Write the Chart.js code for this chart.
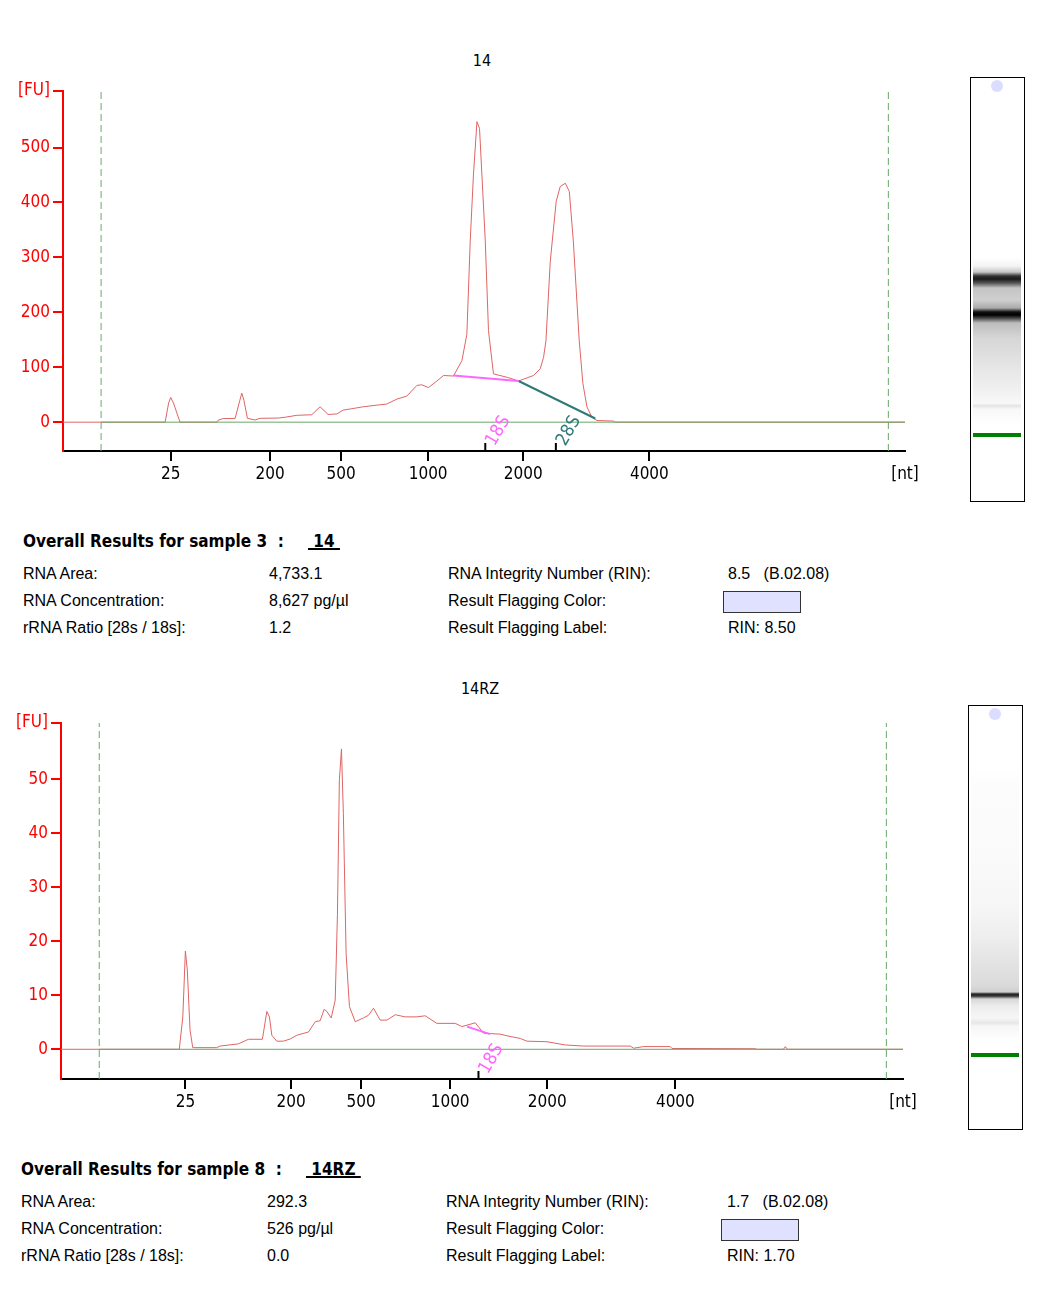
<!DOCTYPE html>
<html>
<head>
<meta charset="utf-8">
<script src="https://cdn.jsdelivr.net/npm/chart.js@4.4.0/dist/chart.umd.min.js"></script>
<style>
  body { margin: 0; background: #fff; width: 1056px; height: 1305px; position: relative; overflow: hidden;
         font-family: "Liberation Sans", Arial, sans-serif; color: #000; }
  .abs { position: absolute; white-space: nowrap; }
  .title { font-family: "DejaVu Sans Condensed", "DejaVu Sans", sans-serif; font-size: 16px; line-height: 20px; }
  .head { font-family: "DejaVu Sans Condensed", "DejaVu Sans", sans-serif; font-weight: bold; font-size: 17px; line-height: 20px; }
  .head u { text-decoration-thickness: 2px; }
  .row { font-size: 16px; line-height: 18px; }
  .flag { position: absolute; width: 76px; height: 20px; background: #e0e0ff; border: 1px solid #333; }
  .gel { position: absolute; width: 53px; height: 423px; border: 1px solid #000; background: #fff; }
  .lane { position: absolute; left: 2px; width: 48px; top: 0; height: 423px; }
  .dot { position: absolute; width: 12px; height: 12px; border-radius: 6px; background: #dcdcff; }
  .ladder { position: absolute; left: 2px; width: 48px; height: 4px; background: #008000; }
</style>
</head>
<body>

<!-- sample 3 : 14 -->
<div class="abs title" style="left:462px; top:51px; width:40px; text-align:center;">14</div>
<canvas id="chart14" class="abs" style="left:0; top:40px;" width="940" height="470"></canvas>

<div class="gel" style="left:970px; top:77px;">
  <div class="lane" style="background: linear-gradient(to bottom,
      #fff 0px, #fff 180px, #f4f4f4 188px, #c8c8c8 194px, #333 198px, #1a1a1a 201px, #555 205px, #c4c4c4 210px,
      #cfcfcf 222px, #aaa 230px, #111 234px, #000 237px, #444 240px, #bdbdbd 245px, #d6d6d6 260px,
      #e6e6e6 290px, #f2f2f2 315px, #f8f8f8 325px, #e4e4e4 328px, #f8f8f8 331px, #fff 345px, #fff 423px);"></div>
  <div class="dot" style="left:20px; top:2px;"></div>
  <div class="ladder" style="top:355px;"></div>
</div>

<div class="abs head" style="left:23px; top:531px;">Overall Results for sample 3&nbsp; :</div>
<div class="abs head" style="left:308px; top:531px;"><u>&nbsp;14&nbsp;</u></div>

<div class="abs row" style="left:23px; top:565px;">RNA Area:</div>
<div class="abs row" style="left:269px; top:565px;">4,733.1</div>
<div class="abs row" style="left:448px; top:565px;">RNA Integrity Number (RIN):</div>
<div class="abs row" style="left:728px; top:565px;">8.5&nbsp;&nbsp;&nbsp;(B.02.08)</div>

<div class="abs row" style="left:23px; top:592px;">RNA Concentration:</div>
<div class="abs row" style="left:269px; top:592px;">8,627 pg/µl</div>
<div class="abs row" style="left:448px; top:592px;">Result Flagging Color:</div>
<div class="flag" style="left:723px; top:591px;"></div>

<div class="abs row" style="left:23px; top:619px;">rRNA Ratio [28s / 18s]:</div>
<div class="abs row" style="left:269px; top:619px;">1.2</div>
<div class="abs row" style="left:448px; top:619px;">Result Flagging Label:</div>
<div class="abs row" style="left:728px; top:619px;">RIN: 8.50</div>

<!-- sample 8 : 14RZ -->
<div class="abs title" style="left:440px; top:679px; width:80px; text-align:center;">14RZ</div>
<canvas id="chart14RZ" class="abs" style="left:0; top:680px;" width="940" height="460"></canvas>

<div class="gel" style="left:968px; top:705px;">
  <div class="lane" style="background: linear-gradient(to bottom,
      #fff 0px, #fff 60px, #fcfcfc 80px, #fafafa 150px, #f6f6f6 200px, #eeeeee 230px, #e2e2e2 260px,
      #dadada 280px, #cfcfcf 286px, #222 288px, #333 290px, #d8d8d8 293px, #ececec 300px, #f6f6f6 312px,
      #e6e6e6 317px, #f6f6f6 320px, #fff 335px, #fff 423px);"></div>
  <div class="dot" style="left:20px; top:2px;"></div>
  <div class="ladder" style="top:347px;"></div>
</div>

<div class="abs head" style="left:21px; top:1159px;">Overall Results for sample 8&nbsp; :</div>
<div class="abs head" style="left:306px; top:1159px;"><u>&nbsp;14RZ&nbsp;</u></div>

<div class="abs row" style="left:21px; top:1193px;">RNA Area:</div>
<div class="abs row" style="left:267px; top:1193px;">292.3</div>
<div class="abs row" style="left:446px; top:1193px;">RNA Integrity Number (RIN):</div>
<div class="abs row" style="left:727px; top:1193px;">1.7&nbsp;&nbsp;&nbsp;(B.02.08)</div>

<div class="abs row" style="left:21px; top:1220px;">RNA Concentration:</div>
<div class="abs row" style="left:267px; top:1220px;">526 pg/µl</div>
<div class="abs row" style="left:446px; top:1220px;">Result Flagging Color:</div>
<div class="flag" style="left:721px; top:1219px;"></div>

<div class="abs row" style="left:21px; top:1247px;">rRNA Ratio [28s / 18s]:</div>
<div class="abs row" style="left:267px; top:1247px;">0.0</div>
<div class="abs row" style="left:446px; top:1247px;">Result Flagging Label:</div>
<div class="abs row" style="left:727px; top:1247px;">RIN: 1.70</div>

<script>
'use strict';

// size ladder labels (nt) shared by both runs
let sizeLabels = ['25', '200', '500', '1000', '2000', '4000'];

// ---- sample 3 (14) ----
// migration time [s] of each ladder size
let ladderTimes14 = [25.73, 31.94, 36.38, 41.81, 47.75, 55.63];
let fuTicks14 = [0, 100, 200, 300, 400, 500];

let time14 = [19.0, 25.38, 25.6, 25.73, 25.9, 26.31, 28.61, 28.69, 29.0, 29.75, 30.05, 30.17, 30.3,
  30.52, 31.0, 31.31, 32.44, 32.88, 33.61, 34.54, 35.06, 35.56, 36.11, 36.5, 36.94, 37.75, 38.61,
  39.23, 39.86, 40.48, 41.11, 41.42, 41.83, 42.36, 42.77, 43.39, 43.92, 44.23, 44.44, 44.64,
  44.86, 45.02, 45.17, 45.38, 45.58, 45.89, 46.83, 47.46, 48.39, 48.81, 49.02, 49.17, 49.44,
  49.81, 50.06, 50.38, 50.63, 50.88, 51.25, 51.48, 51.73, 52.04, 52.36, 53.39, 53.5, 71.6];
let fu14 = [0, 0, 35, 45, 35, 0, 0, 3.5, 6.5, 6.8, 40, 53, 40,
  7, 4, 7, 7.5, 9, 12.5, 13.5, 28, 14, 15, 22, 24, 28, 31,
  33, 42, 47.5, 67, 68, 63, 75, 85, 84, 112, 160, 330, 450,
  547, 535, 450, 330, 167, 88, 81, 75, 85, 97, 118, 148, 293,
  402, 429, 435, 420, 330, 148, 70, 28, 9, 3, 2, 0, 0];

// 18S / 28S baselines
let peak18sTime14 = [43.39, 47.46];
let peak18sFu14 = [85, 75];
let peak28sTime14 = [47.46, 52.25];
let peak28sFu14 = [75, 6.7];

// ---- sample 8 (14RZ) ----
let ladderTimes14RZ = [26.77, 33.38, 37.75, 43.31, 49.38, 57.38];
let fuTicks14RZ = [0, 10, 20, 30, 40, 50];

let time14RZ = [19.0, 26.39, 26.61, 26.77, 26.89, 27.06, 27.23, 28.73, 28.94, 30.08, 30.71,
  31.58, 31.86, 32.02, 32.17, 32.48, 32.89, 33.31, 33.73, 34.46, 34.88, 35.19, 35.44, 35.61,
  35.88, 36.13, 36.27, 36.39, 36.52, 36.64, 36.81, 37.02, 37.38, 37.89, 38.21, 38.52, 38.94,
  39.36, 39.88, 40.5, 41.23, 41.75, 42.48, 43.63, 44.04, 44.88, 45.39, 46.44, 46.86, 47.69,
  48.11, 49.36, 50.5, 51.64, 54.56, 54.77, 55.39, 57.06, 57.17, 62.38, 62.5, 64.13, 64.25,
  64.38, 71.6];
let fu14RZ = [0, 0, 6, 18.2, 14.7, 3.6, 0.3, 0.3, 0.6, 1.0, 1.85,
  1.85, 7.0, 6, 2.6, 1.5, 1.5, 1.9, 2.6, 3.2, 5.1, 5.3, 7.4, 7,
  5.8, 9.1, 25, 49.8, 55.6, 43.6, 17.7, 7.9, 5.1, 5.8, 6.3, 7.6, 5.4,
  5.4, 6.4, 6, 6, 6.2, 4.8, 4.8, 4.2, 4.9, 3.0, 2.8, 2.5, 2.0,
  1.5, 1.4, 0.8, 0.6, 0.6, 0.2, 0.5, 0.5, 0.15, 0.1, 0, 0, 0.5,
  0, 0];

let peak18sTime14RZ = [44.36, 45.81];
let peak18sFu14RZ = [4.2, 2.8];

// helpers
function toPoints(xs, ys) {
  let pts = [];
  for (let i = 0; i < xs.length; i++) {
    pts.push({ x: xs[i], y: ys[i] });
  }
  return pts;
}

let tickFont = { family: '"DejaVu Sans Condensed", "DejaVu Sans", sans-serif', size: 17 };

// draws the short 18S / 28S ticks and their slanted names on the time axis
let fragmentMarks = {
  id: 'fragmentMarks',
  afterDatasetsDraw(chart, args, opts) {
    let ctx = chart.ctx;
    let xScale = chart.scales.x;
    let bottom = chart.chartArea.bottom;
    ctx.save();
    for (let m of opts.marks) {
      let px = xScale.getPixelForValue(m.time);
      ctx.strokeStyle = '#000';
      ctx.lineWidth = 2;
      ctx.beginPath();
      ctx.moveTo(px, bottom - 8);
      ctx.lineTo(px, bottom);
      ctx.stroke();

      ctx.save();
      ctx.translate(px + 13, bottom - 20);
      ctx.rotate(-Math.PI / 3);
      ctx.fillStyle = m.color;
      ctx.font = '18px "DejaVu Sans Condensed", "DejaVu Sans", sans-serif';
      ctx.textAlign = 'center';
      ctx.textBaseline = 'middle';
      ctx.fillText(m.name, 0, 0);
      ctx.restore();
    }
    ctx.restore();
  }
};

function drawRun(canvasId, run) {
  let ctx = document.getElementById(canvasId).getContext('2d');

  let datasets = [
    { // baseline between the lower and upper markers
      data: toPoints([run.dashTimes[0], run.xMax], [0, 0]),
      borderColor: '#6aa86a', borderWidth: 1
    }
  ];
  for (let p of run.peaks) {
    datasets.push({ data: toPoints(p.times, p.fu), borderColor: p.color, borderWidth: 2 });
  }
  datasets.push({ data: toPoints(run.times, run.fu), borderColor: '#e06464', borderWidth: 1 });
  for (let t of run.dashTimes) {
    datasets.push({
      data: toPoints([t, t], [run.yMin, run.yMax]),
      borderColor: '#6aa86a', borderWidth: 1, borderDash: [7, 4]
    });
  }

  new Chart(ctx, {
    type: 'line',
    data: { datasets: datasets },
    plugins: [fragmentMarks],
    options: {
      responsive: false,
      animation: false,
      events: [],
      layout: { padding: { left: 0, right: run.padRight, top: run.padTop, bottom: 0 } },
      elements: { point: { radius: 0 }, line: { tension: 0 } },
      plugins: {
        legend: { display: false },
        tooltip: { enabled: false },
        fragmentMarks: { marks: run.marks }
      },
      scales: {
        x: {
          type: 'linear',
          min: run.xMin,
          max: run.xMax,
          afterBuildTicks: (scale) => {
            scale.ticks = run.ladderTimes.concat([run.xMax]).map(v => ({ value: v }));
          },
          afterFit: (scale) => { scale.height = run.xAxisHeight; },
          border: { color: '#000', width: 2 },
          grid: {
            drawOnChartArea: false,
            tickLength: 10,
            lineWidth: 2,
            color: (c) => (c.index >= run.ladderTimes.length ? 'rgba(0,0,0,0)' : '#000')
          },
          ticks: {
            autoSkip: false,
            maxRotation: 0,
            padding: 3,
            color: '#000',
            font: tickFont,
            callback: (v, i) => (i < sizeLabels.length ? sizeLabels[i] : '[nt]')
          }
        },
        y: {
          min: run.yMin,
          max: run.yMax,
          afterBuildTicks: (scale) => {
            scale.ticks = run.fuTicks.concat([run.yMax]).map(v => ({ value: v }));
          },
          afterFit: (scale) => { scale.width = run.yAxisWidth; },
          border: { color: '#ff0000', width: 2 },
          grid: { drawOnChartArea: false, tickLength: 10, lineWidth: 2, color: '#ff0000' },
          ticks: {
            padding: 3,
            color: '#ff0000',
            font: tickFont,
            callback: (v, i) => (i < run.fuTicks.length ? String(v) : '[FU]')
          }
        }
      }
    }
  });
}

drawRun('chart14', {
  times: time14, fu: fu14,
  ladderTimes: ladderTimes14, fuTicks: fuTicks14,
  xMin: 19, xMax: 71.6, yMin: -52.5, yMax: 603,
  dashTimes: [21.38, 70.56],
  peaks: [
    { times: peak18sTime14, fu: peak18sFu14, color: '#ff66ff' },
    { times: peak28sTime14, fu: peak28sFu14, color: '#2f7a78' }
  ],
  marks: [
    { time: 45.38, name: '18S', color: '#ff66ff' },
    { time: 49.79, name: '28S', color: '#2f7a78' }
  ],
  padTop: 51, padRight: 35, xAxisHeight: 59, yAxisWidth: 63
});

drawRun('chart14RZ', {
  times: time14RZ, fu: fu14RZ,
  ladderTimes: ladderTimes14RZ, fuTicks: fuTicks14RZ,
  xMin: 19, xMax: 71.6, yMin: -5.5, yMax: 60.4,
  dashTimes: [21.39, 70.56],
  peaks: [
    { times: peak18sTime14RZ, fu: peak18sFu14RZ, color: '#ff66ff' }
  ],
  marks: [
    { time: 45.08, name: '18S', color: '#ff66ff' }
  ],
  padTop: 43, padRight: 37, xAxisHeight: 61, yAxisWidth: 61
});
</script>
</body>
</html>
